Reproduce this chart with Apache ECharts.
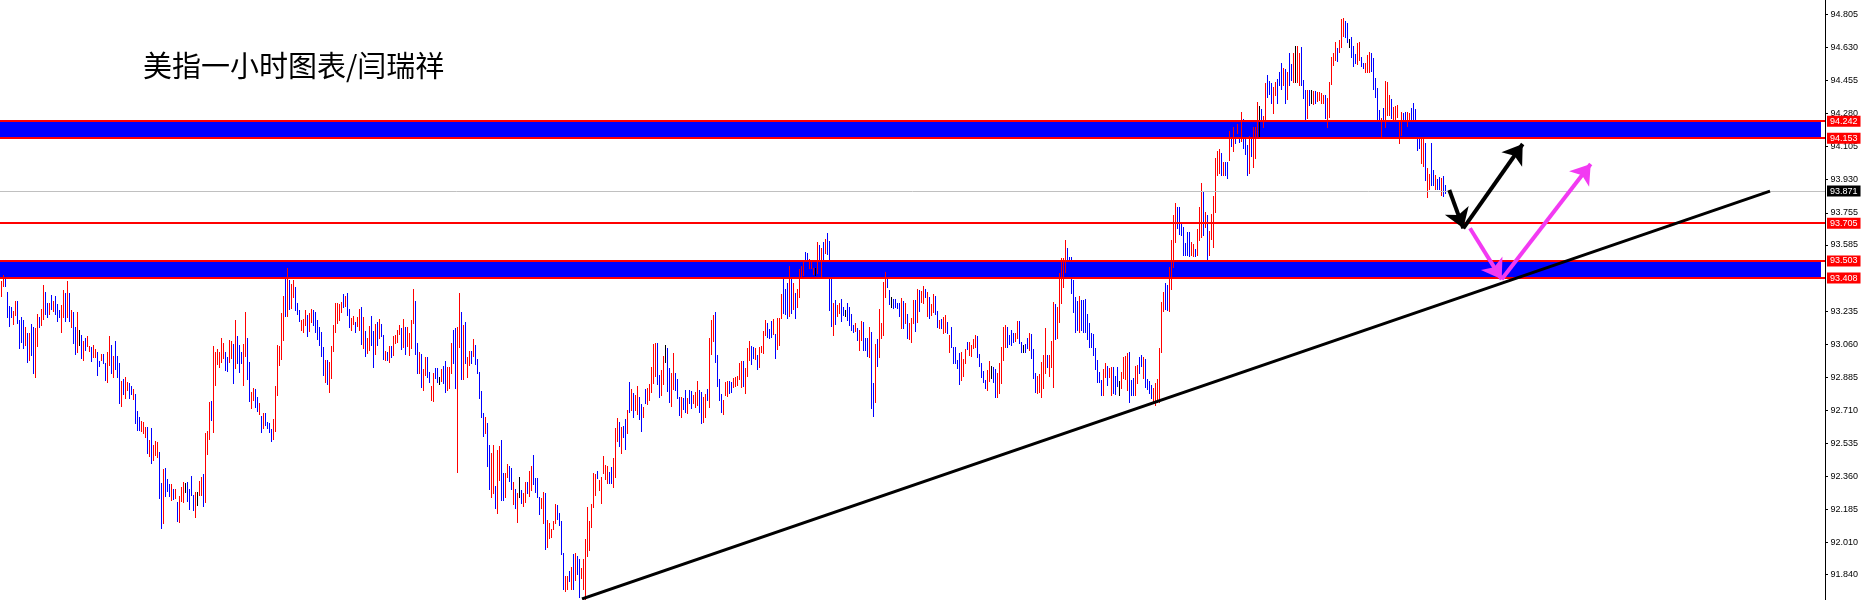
<!DOCTYPE html>
<html><head><meta charset="utf-8">
<script src="https://cdn.jsdelivr.net/npm/echarts@6/dist/echarts.min.js"></script>
<style>html,body{margin:0;padding:0;background:#fff}#c{width:1868px;height:600px}</style>
</head><body><div id="c"></div>
<script>
const titleText = '美指一小时图表/闫瑞祥';
const yTicks = [94.805,94.630,94.455,94.280,94.105,93.930,93.755,93.585,93.235,93.060,92.885,92.710,92.535,92.360,92.185,92.010,91.840];
const levels = [94.242,94.153,93.705,93.503,93.408];
const currentPrice = 93.871;
const bands = [[94.242,94.153],[93.497,93.408]];
const trendLine = [[291,91.712],[885,93.870]];
const blackArrows = [[[724.65,93.876],[731.65,93.673]],[[731.65,93.673],[761.35,94.119]]];
const magentaArrows = [[[735,93.673],[750.85,93.403]],[[750.85,93.403],[795.35,94.013]]];

const highs = [
93.396,93.426,93.403,93.338,93.262,93.258,93.235,93.288,93.288,93.188,
93.202,93.188,93.149,93.121,93.121,93.166,93.149,93.147,93.219,93.205,
93.246,93.373,93.334,93.279,93.279,93.320,93.290,93.315,93.271,93.241,
93.267,93.346,93.332,93.394,93.329,93.241,93.232,93.149,93.232,93.135,
93.108,93.078,93.094,93.103,93.050,93.047,93.055,93.034,93.018,92.971,
93.008,93.008,92.962,93.018,93.103,93.055,92.997,93.078,92.997,92.958,
92.867,92.874,92.888,92.861,92.856,92.838,92.821,92.796,92.708,92.676,
92.655,92.648,92.623,92.623,92.553,92.616,92.526,92.549,92.544,92.491,
92.327,92.401,92.406,92.345,92.320,92.320,92.292,92.293,92.226,92.256,
92.306,92.330,92.327,92.330,92.295,92.362,92.262,92.276,92.279,92.338,
92.359,92.373,92.592,92.600,92.754,92.759,93.050,93.020,93.036,93.018,
93.091,93.068,93.018,92.990,93.082,93.078,93.061,93.188,93.103,93.055,
93.020,93.061,93.232,93.094,92.967,92.808,92.830,92.823,92.782,92.747,
92.681,92.697,92.697,92.650,92.644,92.611,92.662,92.840,93.055,93.050,
93.226,93.316,93.403,93.465,93.399,93.380,93.399,93.364,93.279,93.241,
93.188,93.195,93.241,93.214,93.223,93.246,93.241,93.232,93.188,93.152,
93.126,93.047,92.976,92.976,92.965,93.050,93.161,93.279,93.279,93.272,
93.285,93.325,93.315,93.332,93.246,93.200,93.209,93.179,93.205,93.248,
93.258,93.205,93.131,93.091,93.156,93.209,93.131,93.166,93.179,93.193,
93.166,93.108,93.025,93.017,93.050,93.052,93.103,93.108,93.135,93.161,
93.144,93.193,93.149,93.152,93.117,93.188,93.352,93.288,93.064,93.020,
93.008,92.928,92.994,92.994,92.914,92.840,92.909,92.935,92.932,92.888,
92.928,92.944,92.971,92.941,92.941,93.068,93.135,93.144,93.152,93.332,
93.232,93.161,93.179,92.994,93.024,93.024,93.087,93.055,92.980,92.914,
92.814,92.697,92.676,92.641,92.527,92.486,92.527,92.310,92.500,92.521,
92.553,92.380,92.380,92.426,92.416,92.407,92.329,92.294,92.271,92.359,
92.289,92.275,92.329,92.329,92.389,92.416,92.474,92.350,92.354,92.250,
92.245,92.280,92.275,92.130,92.112,92.080,92.126,92.213,92.209,92.169,
92.126,91.953,91.834,91.834,91.862,91.883,91.950,91.957,91.939,91.922,
91.874,91.922,92.028,92.200,92.126,92.215,92.377,92.373,92.391,92.342,
92.356,92.469,92.421,92.416,92.386,92.412,92.456,92.615,92.668,92.650,
92.624,92.627,92.662,92.712,92.862,92.821,92.804,92.791,92.839,92.779,
92.744,92.730,92.821,92.827,92.850,92.941,93.059,93.068,93.065,92.897,
92.924,92.998,93.056,93.038,92.932,92.906,93.015,92.906,92.874,92.779,
92.779,92.774,92.818,92.774,92.818,92.814,92.791,92.809,92.867,92.818,
92.809,92.779,92.797,92.821,93.091,93.188,93.215,93.232,93.003,92.874,
92.797,92.765,92.862,92.865,92.867,92.862,92.879,92.888,92.893,92.959,
92.973,92.973,92.932,93.038,93.077,93.052,93.047,93.038,93.003,93.047,
93.050,93.132,93.188,93.170,93.142,93.184,93.191,93.112,93.197,93.197,
93.326,93.440,93.350,93.385,93.474,93.430,93.385,93.333,93.352,93.458,
93.474,93.505,93.546,93.544,93.509,93.497,93.461,93.465,93.601,93.585,
93.567,93.602,93.615,93.650,93.608,93.408,93.276,93.294,93.267,93.276,
93.297,93.255,93.241,93.280,93.259,93.220,93.162,93.174,93.144,93.135,
93.184,93.176,93.091,93.091,93.153,93.126,92.853,93.061,93.086,93.246,
93.174,93.391,93.444,93.405,93.347,93.308,93.297,93.297,93.280,93.280,
93.303,93.290,93.276,93.220,93.170,93.197,93.294,93.294,93.350,93.347,
93.343,93.368,93.350,93.338,93.311,93.273,93.324,93.315,93.236,93.188,
93.193,93.206,93.214,93.179,93.109,93.153,93.047,93.047,92.976,93.015,
93.020,92.980,93.035,93.073,93.073,93.056,93.086,93.109,93.103,93.008,
92.959,92.918,92.871,92.923,92.973,92.945,92.938,92.927,92.906,92.959,
93.047,93.149,93.162,93.149,93.109,93.135,93.118,93.121,93.185,93.185,
93.073,93.056,93.061,93.091,93.118,93.114,93.033,92.909,92.892,92.902,
92.968,93.003,93.144,93.003,93.003,93.079,93.285,93.273,93.259,93.435,
93.514,93.514,93.611,93.567,93.523,93.523,93.400,93.311,93.290,93.315,
93.294,93.294,93.297,93.220,93.170,93.121,93.114,93.038,92.976,92.915,
92.871,92.927,92.959,92.945,92.936,92.941,92.938,92.892,92.938,92.865,
92.915,92.994,92.998,93.012,93.020,92.871,92.879,92.945,92.950,92.994,
93.003,92.994,92.980,92.874,92.867,92.844,92.826,92.856,92.874,93.038,
93.285,93.338,93.382,93.373,93.467,93.611,93.744,93.805,93.784,93.784,
93.696,93.678,93.597,93.655,93.655,93.603,93.590,93.562,93.668,93.784,
93.915,93.867,93.758,93.744,93.661,93.749,93.844,94.043,94.084,94.091,
94.070,94.022,94.022,94.026,94.188,94.176,94.211,94.200,94.225,94.210,
94.290,94.251,94.149,94.114,94.161,94.232,94.211,94.207,94.343,94.320,
94.302,94.267,94.444,94.484,94.454,94.444,94.422,94.449,94.461,94.502,
94.549,94.523,94.514,94.502,94.602,94.541,94.599,94.638,94.638,94.602,
94.631,94.458,94.405,94.405,94.405,94.405,94.401,94.401,94.396,94.396,
94.387,94.378,94.378,94.361,94.449,94.581,94.599,94.661,94.625,94.669,
94.780,94.784,94.770,94.758,94.673,94.683,94.638,94.594,94.655,94.661,
94.581,94.546,94.546,94.590,94.608,94.602,94.576,94.470,94.414,94.299,
94.255,94.311,94.454,94.449,94.378,94.355,94.317,94.320,94.325,94.246,
94.290,94.285,94.290,94.290,94.285,94.308,94.334,94.302,94.176,94.149,
94.153,94.144,94.126,93.990,93.960,94.123,93.982,93.955,93.932,93.946,
93.937,93.950,93.902];

const lows = [
93.315,93.369,93.369,93.205,93.156,93.205,93.166,93.214,93.174,93.041,
93.071,93.041,93.055,92.967,92.976,93.002,92.909,92.888,93.050,93.152,
93.161,93.195,93.218,93.205,93.218,93.244,93.235,93.219,93.184,93.205,
93.126,93.205,93.184,93.205,93.184,93.149,93.068,93.009,93.020,93.055,
92.988,92.976,93.029,93.050,93.025,92.972,92.990,92.990,92.897,92.944,
92.976,92.958,92.870,92.860,92.950,92.905,92.888,92.928,92.884,92.750,
92.733,92.796,92.773,92.817,92.773,92.796,92.770,92.644,92.606,92.606,
92.602,92.588,92.570,92.486,92.468,92.433,92.447,92.473,92.464,92.244,
92.089,92.115,92.256,92.285,92.256,92.235,92.239,92.244,92.126,92.121,
92.232,92.226,92.279,92.232,92.186,92.262,92.182,92.147,92.209,92.262,
92.262,92.203,92.226,92.479,92.558,92.659,92.597,92.844,92.955,92.937,
92.967,92.985,92.923,92.918,92.967,92.985,92.856,92.932,92.958,92.914,
92.958,92.844,92.997,92.874,92.759,92.724,92.764,92.729,92.706,92.690,
92.597,92.614,92.632,92.614,92.597,92.547,92.556,92.600,92.791,92.950,
92.983,93.082,93.211,93.211,93.244,93.253,93.309,93.241,93.219,93.184,
93.135,93.126,93.159,93.105,93.129,93.179,93.159,93.126,93.089,93.055,
92.997,92.897,92.861,92.849,92.808,92.883,93.025,93.126,93.174,93.188,
93.232,93.258,93.263,93.214,93.152,93.135,93.166,93.124,93.156,93.135,
93.061,93.041,92.997,93.015,93.029,93.055,92.941,93.008,93.055,93.091,
93.103,92.980,92.976,92.976,92.967,92.994,93.002,93.068,93.073,93.112,
93.032,93.047,93.008,93.050,93.002,93.038,93.170,93.008,92.909,92.909,
92.835,92.817,92.897,92.888,92.861,92.764,92.759,92.879,92.861,92.847,
92.865,92.853,92.808,92.817,92.830,92.905,92.958,92.826,92.385,93.047,
92.874,92.874,92.958,92.888,92.950,92.958,92.997,92.955,92.905,92.777,
92.676,92.576,92.588,92.417,92.294,92.253,92.275,92.192,92.169,92.342,
92.236,92.236,92.253,92.359,92.338,92.294,92.215,92.192,92.121,92.253,
92.222,92.206,92.227,92.271,92.257,92.289,92.320,92.280,92.250,92.160,
92.192,92.116,91.975,91.989,92.033,92.042,92.082,92.112,92.133,92.103,
91.950,91.765,91.756,91.765,91.809,91.765,91.765,91.812,91.844,91.721,
91.825,91.763,91.707,91.939,91.971,92.095,92.200,92.262,92.350,92.289,
92.222,92.377,92.345,92.324,92.327,92.324,92.306,92.359,92.548,92.521,
92.486,92.571,92.504,92.588,92.703,92.712,92.677,92.712,92.691,92.663,
92.603,92.673,92.747,92.744,92.765,92.809,92.857,92.892,92.850,92.779,
92.791,92.850,92.968,92.812,92.756,92.733,92.821,92.818,92.774,92.685,
92.673,92.715,92.703,92.694,92.747,92.721,92.747,92.730,92.738,92.703,
92.645,92.650,92.677,92.765,92.730,93.008,93.079,92.964,92.839,92.765,
92.703,92.689,92.791,92.786,92.800,92.809,92.832,92.839,92.844,92.874,
92.835,92.839,92.800,92.893,92.976,92.955,92.989,92.980,92.927,92.941,
93.020,93.012,93.109,93.100,93.094,93.100,93.114,92.985,93.033,93.056,
93.197,93.227,93.220,93.197,93.209,93.223,93.244,93.197,93.255,93.311,
93.408,93.426,93.479,93.467,93.461,93.461,93.431,93.426,93.435,93.502,
93.417,93.497,93.541,93.535,93.241,93.156,93.109,93.165,93.209,93.223,
93.184,93.214,93.209,93.188,93.162,93.135,93.126,93.132,93.082,93.029,
93.082,93.029,93.029,92.999,92.994,92.724,92.680,92.756,92.946,92.994,
93.091,93.109,93.308,93.364,93.271,93.255,93.250,93.255,93.250,93.209,
93.147,93.147,93.170,93.091,93.086,93.073,93.170,93.132,93.179,93.237,
93.285,93.276,93.308,93.209,93.197,93.214,93.232,93.218,93.153,93.147,
93.144,93.121,93.126,93.117,93.020,93.047,92.962,92.959,92.936,92.848,
92.871,92.893,92.959,93.033,93.003,92.997,93.038,93.043,92.991,92.945,
92.885,92.862,92.826,92.818,92.867,92.879,92.862,92.782,92.779,92.804,
92.853,92.976,93.047,93.047,93.061,93.056,93.073,93.079,93.091,93.065,
93.020,93.020,93.017,93.038,93.029,92.985,92.879,92.809,92.800,92.809,
92.779,92.830,92.909,92.941,92.892,92.941,92.832,93.086,93.091,93.179,
93.276,93.364,93.444,93.479,93.491,93.333,93.232,93.126,93.135,93.126,
93.135,93.126,93.126,93.086,93.043,93.047,93.003,92.927,92.862,92.862,
92.791,92.791,92.885,92.844,92.885,92.791,92.800,92.797,92.839,92.791,
92.826,92.879,92.874,92.818,92.756,92.791,92.791,92.791,92.856,92.909,
92.945,92.879,92.835,92.821,92.800,92.774,92.756,92.738,92.756,92.756,
93.020,93.238,93.245,93.241,93.238,93.350,93.470,93.603,93.673,93.643,
93.638,93.532,93.532,93.532,93.528,93.532,93.528,93.527,93.532,93.611,
93.625,93.638,93.678,93.488,93.532,93.615,93.576,93.761,93.955,93.964,
93.955,93.955,93.955,93.941,94.034,94.108,94.084,94.126,94.176,94.131,
94.137,94.096,94.066,93.955,93.967,94.056,93.999,94.043,94.158,94.158,
94.225,94.207,94.243,94.370,94.384,94.338,94.285,94.378,94.334,94.431,
94.408,94.431,94.334,94.355,94.431,94.458,94.449,94.449,94.449,94.431,
94.431,94.364,94.246,94.255,94.325,94.334,94.331,94.334,94.348,94.352,
94.334,94.334,94.255,94.207,94.264,94.437,94.537,94.564,94.560,94.608,
94.634,94.690,94.683,94.661,94.631,94.581,94.534,94.549,94.541,94.564,
94.532,94.523,94.502,94.502,94.502,94.507,94.408,94.370,94.246,94.190,
94.158,94.200,94.211,94.273,94.273,94.255,94.246,94.250,94.260,94.126,
94.167,94.200,94.190,94.214,94.246,94.200,94.180,94.154,94.087,94.096,
94.017,94.003,93.929,93.840,93.879,93.902,93.902,93.879,93.879,93.879,
93.849,93.844,93.858];

// 1 = up bar (red), -1 = down bar (blue), 0 = unchanged (black)
const dirs = [
1,1,-1,-1,-1,-1,1,1,-1,-1,
-1,-1,1,-1,1,-1,-1,1,1,-1,
1,1,-1,-1,1,-1,1,-1,-1,-1,
1,1,-1,1,-1,1,-1,-1,1,0,
-1,1,-1,1,1,-1,1,1,-1,-1,
1,-1,-1,1,1,-1,1,-1,-1,-1,
1,-1,1,1,-1,-1,1,-1,-1,-1,
1,1,1,-1,1,-1,1,1,1,-1,
-1,1,-1,-1,-1,1,-1,1,-1,1,
1,1,0,-1,-1,-1,-1,1,0,1,
1,-1,1,1,1,-1,1,1,1,1,
1,1,-1,-1,1,1,-1,1,-1,-1,
-1,1,1,-1,-1,1,1,-1,-1,1,
-1,1,-1,-1,-1,-1,1,1,1,1,
1,1,-1,1,-1,1,1,-1,-1,-1,
1,1,1,-1,1,1,-1,-1,-1,-1,
-1,-1,1,-1,1,1,1,1,1,1,
1,-1,1,-1,-1,1,1,-1,1,1,
-1,1,-1,1,1,-1,-1,1,-1,1,
-1,-1,1,-1,1,-1,1,1,1,1,
-1,1,-1,1,1,1,1,-1,-1,1,
-1,1,1,-1,-1,1,1,-1,-1,0,
1,-1,-1,1,1,1,-1,-1,1,1,
-1,1,-1,1,1,-1,1,-1,-1,-1,
-1,-1,1,-1,-1,1,1,-1,1,1,
-1,-1,1,1,-1,-1,1,-1,1,0,
-1,1,1,-1,1,1,-1,-1,-1,-1,
1,1,-1,1,1,1,1,1,-1,-1,
-1,-1,1,1,-1,1,-1,1,-1,-1,
1,1,1,1,1,1,1,1,-1,1,
1,1,1,1,-1,-1,1,1,1,-1,
1,-1,-1,1,-1,1,-1,1,1,-1,
-1,1,-1,1,1,1,1,1,-1,-1,
1,1,0,-1,-1,1,1,-1,-1,-1,
1,-1,-1,1,-1,-1,1,1,1,-1,
-1,1,1,-1,1,1,1,-1,-1,-1,
-1,1,1,1,-1,-1,1,1,1,1,
1,-1,1,1,1,-1,-1,1,-1,1,
1,1,1,-1,-1,-1,1,-1,1,1,
1,-1,-1,-1,1,-1,1,-1,1,1,
1,1,-1,-1,1,1,1,0,1,-1,
1,-1,1,-1,-1,-1,1,-1,1,1,
-1,-1,0,-1,-1,-1,-1,1,-1,1,
1,-1,-1,-1,1,-1,-1,1,-1,1,
1,1,1,-1,-1,0,-1,-1,-1,-1,
1,-1,1,-1,1,1,1,-1,1,-1,
1,1,-1,1,-1,1,1,-1,-1,1,
-1,1,1,-1,1,-1,-1,-1,-1,-1,
1,1,1,-1,1,1,1,1,-1,-1,
-1,-1,-1,1,1,0,-1,-1,1,1,
1,1,1,-1,-1,-1,-1,1,1,-1,
-1,0,-1,-1,1,-1,-1,-1,1,1,
1,1,1,-1,1,1,1,-1,1,1,
1,1,1,-1,-1,-1,-1,-1,-1,1,
-1,-1,-1,-1,-1,-1,-1,-1,-1,-1,
-1,1,1,-1,1,1,-1,-1,-1,0,
1,1,1,1,-1,-1,-1,1,1,-1,
-1,1,-1,-1,-1,-1,1,1,1,1,
1,1,-1,-1,1,1,1,1,-1,-1,
-1,-1,-1,-1,-1,1,1,-1,1,1,
1,-1,1,-1,1,1,1,1,1,1,
-1,1,-1,-1,1,-1,1,-1,1,-1,
1,-1,-1,-1,1,-1,1,1,1,0,
-1,1,1,-1,-1,-1,1,1,-1,-1,
-1,1,-1,1,-1,-1,1,0,1,1,
-1,-1,-1,1,-1,0,1,-1,1,1,
1,1,-1,1,1,1,1,1,-1,1,
1,1,-1,-1,0,-1,-1,-1,1,1,
-1,-1,1,1,1,-1,-1,-1,-1,-1,
1,-1,1,1,1,-1,1,1,1,1,
1,-1,-1,1,1,-1,-1,-1,-1,-1,
1,1,-1,1,1,-1,-1,1,-1,-1,
1,-1,-1];

const barData = highs.map((h, i) => [i, lows[i], h, dirs[i]]);
const colorOf = d => d > 0 ? '#ff0000' : (d < 0 ? '#0000ff' : '#000000');

function renderBar(params, api) {
  const i = api.value(0);
  const top = api.coord([i + 0.5, api.value(2)]);
  const bot = api.coord([i + 0.5, api.value(1)]);
  const x = Math.round(top[0]);
  const y1 = Math.round(top[1]);
  const y2 = Math.round(bot[1]);
  return {type: 'rect', shape: {x: x, y: y1, width: 1, height: Math.max(1, y2 - y1 + 1)},
          style: {fill: colorOf(api.value(3))}};
}

const labelBase = {show: true, position: 'end', distance: 2, color: '#ffffff', fontSize: 9, fontFamily: 'Liberation Sans',
  padding: [1, 3, 0, 3], lineHeight: 10};

const markLineData = [];
levels.forEach(v => markLineData.push({
  yAxis: v,
  lineStyle: {color: '#ff0000', width: 2, type: 'solid'},
  label: Object.assign({}, labelBase, {formatter: v.toFixed(3), backgroundColor: '#ff0000'})
}));
markLineData.push({
  yAxis: currentPrice,
  lineStyle: {color: '#c0c0c0', width: 1, type: 'solid'},
  label: Object.assign({}, labelBase, {formatter: currentPrice.toFixed(3), backgroundColor: '#000000'})
});
markLineData.push([
  {coord: trendLine[0], symbol: 'none', lineStyle: {color: '#000000', width: 3, type: 'solid'}, label: {show: false}},
  {coord: trendLine[1], symbol: 'none'}
]);
blackArrows.forEach(a => markLineData.push([
  {coord: a[0], symbol: 'none', lineStyle: {color: '#000000', width: 4, type: 'solid'}, label: {show: false}},
  {coord: a[1], symbol: 'arrow', symbolSize: 19}
]));
magentaArrows.forEach(a => markLineData.push([
  {coord: a[0], symbol: 'none', lineStyle: {color: '#f23af2', width: 4, type: 'solid'}, label: {show: false}},
  {coord: a[1], symbol: 'arrow', symbolSize: 19}
]));

const chart = echarts.init(document.getElementById('c'), null, {renderer: 'canvas'});
chart.setOption({
  animation: false,
  backgroundColor: '#ffffff',
  grid: {left: 0, right: 43, top: 0, bottom: 0, containLabel: false},
  xAxis: {type: 'value', min: 0, max: 912.5, show: false},
  yAxis: {
    type: 'value', position: 'right', min: 91.7064, max: 94.881,
    axisLine: {show: true, onZero: false, lineStyle: {color: '#000000', width: 1}},
    axisTick: {show: true, length: 3, lineStyle: {color: '#000000'}, customValues: yTicks},
    axisLabel: {show: true, customValues: yTicks, formatter: v => Number(v).toFixed(3), color: '#000000',
      fontSize: 9, fontFamily: 'Liberation Sans', margin: 5.5},
    splitLine: {show: false}
  },
  graphic: [{type: 'text', left: 143, top: 51, z: 10,
    style: {text: titleText, font: '29px "Noto Sans CJK SC"', fill: '#000000'}}],
  series: [{
    type: 'custom',
    renderItem: renderBar,
    data: barData,
    encode: {x: 0, y: [1, 2]},
    clip: false,
    z: 2,
    markArea: {
      silent: true,
      itemStyle: {color: '#0000ff', borderWidth: 0},
      label: {show: false},
      data: bands.map(b => [{coord: [0, b[0]]}, {coord: [910.5, b[1]]}])
    },
    markLine: {
      silent: true,
      symbol: ['none', 'none'],
      animation: false,
      data: markLineData
    }
  }]
});
</script>
</body></html>
